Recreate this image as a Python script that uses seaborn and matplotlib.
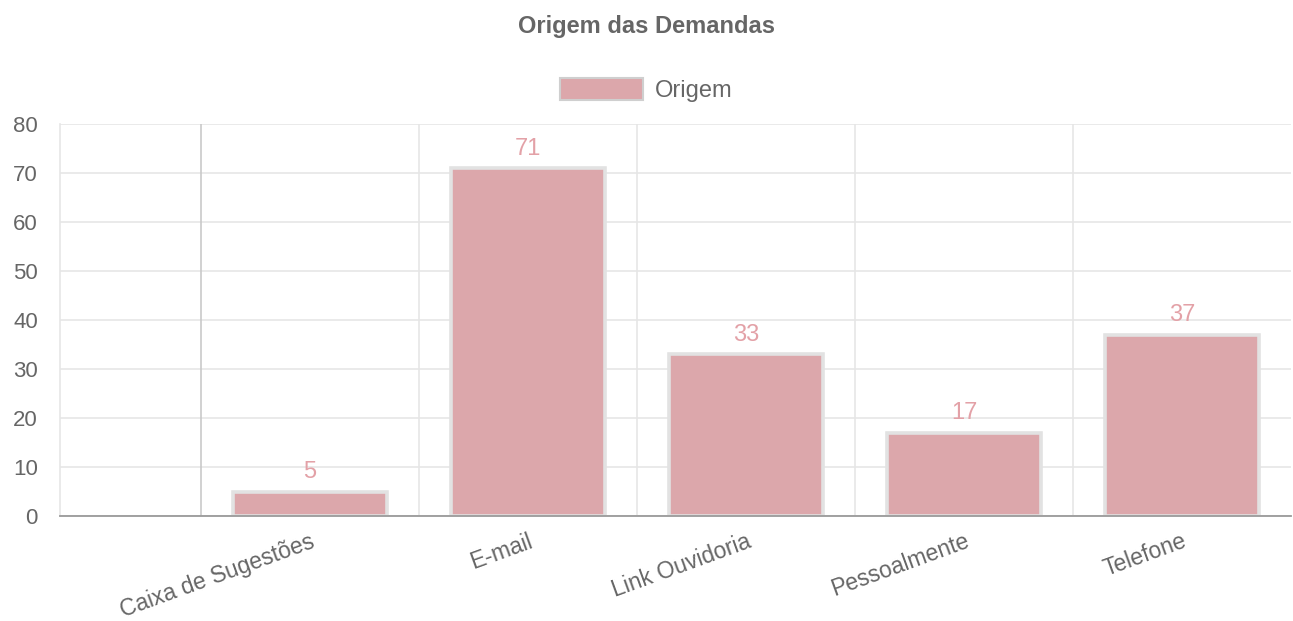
import matplotlib
matplotlib.use("Agg")
import matplotlib.pyplot as plt
import matplotlib.patches as mpatches
import seaborn as sns
import numpy as np

categories = ["Caixa de Sugestões", "E-mail", "Link Ouvidoria", "Pessoalmente", "Telefone"]
values = [5, 71, 33, 17, 37]
series_name = "Origem"
title = "Origem das Demandas"
y_ticks = [0, 10, 20, 30, 40, 50, 60, 70, 80]

sns.set_theme(style="white")
plt.rcParams['font.family'] = ['Liberation Sans', 'DejaVu Sans']

fill = "#dca7ab"
edge = "#e2e2e2"
txt = "#666666"
grid = "#e6e6e6"
fs = 17

fig = plt.figure(figsize=(12.93, 6.21), dpi=100)
ax = fig.add_axes([60/1293, 1-516/621, 1231/1293, 392/621])

sns.barplot(x=categories, y=values, color=fill, saturation=1, width=0.71,
            edgecolor=edge, linewidth=2.6, ax=ax, zorder=3)

ax.set_xlim((60-310)/218, (1291-310)/218)
ax.set_ylim(0, 80)
ax.set_yticks(y_ticks)
ax.set_yticklabels([str(v) for v in y_ticks], fontsize=16, color=txt)

# vertical grid between categories
minor = np.arange(len(categories)) - 0.5
ax.set_xticks(minor, minor=True)
ax.set_xticks(range(len(categories)))
ax.set_xticklabels(categories, rotation=20, ha="right", rotation_mode="anchor",
                   fontsize=16.5, color=txt)
ax.tick_params(axis="x", which="major", length=0, pad=10)
ax.tick_params(axis="x", which="minor", length=14, width=1, color=grid, direction="out")
ax.tick_params(axis="y", length=14, width=1, color=grid, pad=2)
for i, m in enumerate(minor):
    ax.axvline(m, color="#c9c9c9" if i == 0 else grid, lw=1.2, zorder=1)
ax.xaxis.get_minorticklines()[0].set_color("#c9c9c9")
ax.yaxis.grid(True, color=grid, lw=1.2, zorder=0)
ax.set_axisbelow(True)

for s in ["top", "right"]:
    ax.spines[s].set_visible(False)
ax.spines["left"].set_color(grid)
ax.spines["left"].set_linewidth(1.2)
ax.spines["bottom"].set_color("#9a9a9a")
ax.spines["bottom"].set_linewidth(1.3)
ax.spines["bottom"].set_zorder(5)

for i, v in enumerate(values):
    ax.annotate(str(v), (i, v), xytext=(0, 6), textcoords="offset points",
                ha="center", va="bottom", fontsize=fs, color="#e3a1a7")

fig.text(0.5, 1-27/621, title, ha="center", va="center", fontsize=17,
         fontweight="bold", color=txt)

handle = mpatches.Patch(facecolor=fill, edgecolor="#cfcfcf", linewidth=1.5)
fig.legend([handle], [series_name], loc="center", bbox_to_anchor=(0.5, 1-90/621),
           frameon=False, fontsize=fs, labelcolor=txt, handlelength=3.5,
           handleheight=1.05, handletextpad=0.5)

fig.savefig("out.png", dpi=100, facecolor="white")
